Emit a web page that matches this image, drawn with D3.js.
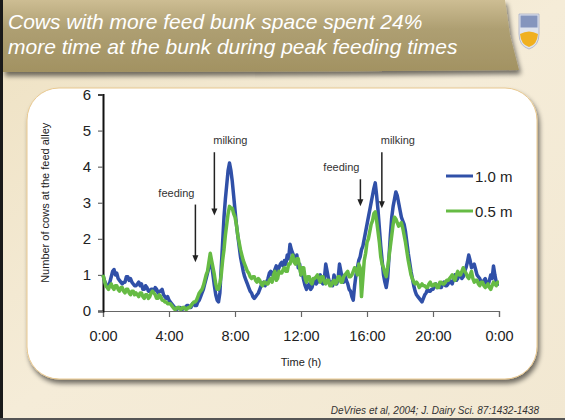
<!DOCTYPE html>
<html><head><meta charset="utf-8">
<script src="https://cdn.jsdelivr.net/npm/d3@7/dist/d3.min.js"></script>
<style>body{margin:0;padding:0;background:#f2e8d0;}svg{display:block;}</style>
</head><body>
<script>
// Data: values every 5 minutes from 0:00 to 24:00
const stepMinutes = 5;
const series1_0m = [
 1.0,0.85,0.75,0.7,0.7,0.8,0.95,1.1,1.15,1.0,1.05,0.9,
 0.85,0.8,0.75,0.8,0.8,0.95,0.95,0.85,0.9,0.8,0.75,0.7,
 0.7,0.75,0.8,0.7,0.75,0.6,0.6,0.7,0.65,0.55,0.55,0.6,
 0.6,0.55,0.65,0.6,0.5,0.55,0.55,0.6,0.45,0.4,0.35,0.4,
 0.3,0.25,0.2,0.15,0.1,0.05,0.05,0.1,0.1,0.05,0.05,0.1,
 0.1,0.15,0.15,0.1,0.1,0.2,0.2,0.15,0.15,0.25,0.3,0.4,
 0.5,0.6,0.75,0.9,1.05,1.2,1.4,1.3,1.0,0.7,0.45,0.3,
 0.25,0.5,1.2,1.9,2.6,3.1,3.5,3.9,4.1,3.9,3.6,3.2,
 2.8,2.4,2.1,1.8,1.5,1.3,1.1,0.95,0.85,0.75,0.65,0.55,
 0.5,0.4,0.35,0.4,0.45,0.5,0.6,0.7,0.75,0.8,0.7,0.8,
 0.9,1.05,1.1,1.0,1.0,1.15,1.25,1.1,1.2,1.3,1.35,1.25,
 1.4,1.3,1.55,1.45,1.85,1.7,1.6,1.5,1.4,1.55,1.2,1.3,
 1.0,1.05,0.85,0.7,0.6,0.7,0.75,0.6,0.65,0.8,0.9,0.75,
 0.8,0.95,1.0,0.8,0.75,0.9,1.3,1.1,0.9,0.75,0.8,0.7,
 1.0,0.85,0.75,0.9,1.3,1.1,0.9,0.8,1.0,0.85,0.75,0.6,
 0.55,0.4,0.3,0.7,1.0,1.2,1.4,1.5,1.7,1.8,2.0,2.2,
 2.4,2.6,2.8,3.0,3.2,3.4,3.55,3.2,2.8,2.3,1.8,1.4,
 1.0,0.8,0.65,0.9,1.5,2.1,2.6,2.9,3.1,3.3,3.2,3.0,
 2.8,2.6,2.5,2.4,2.2,1.9,1.6,1.35,1.1,0.9,0.7,0.55,
 0.45,0.4,0.35,0.3,0.25,0.35,0.45,0.5,0.6,0.55,0.55,0.6,
 0.6,0.7,0.75,0.65,0.7,0.65,0.65,0.75,0.8,0.7,0.7,0.75,
 0.85,0.8,0.75,0.9,1.0,0.85,0.9,1.0,1.05,0.9,0.95,1.1,
 1.2,1.35,1.55,1.4,1.2,1.25,1.3,1.15,1.0,0.95,0.9,0.8,
 0.75,0.85,0.9,0.75,0.7,0.85,1.0,0.9,1.25,1.0,0.8,0.75,
 0.75
];
const series0_5m = [
 1.0,0.85,0.7,0.65,0.6,0.7,0.75,0.65,0.6,0.7,0.7,0.6,
 0.55,0.65,0.65,0.55,0.5,0.6,0.6,0.5,0.45,0.55,0.55,0.45,
 0.5,0.45,0.4,0.5,0.5,0.4,0.35,0.45,0.45,0.35,0.4,0.5,
 0.55,0.5,0.45,0.35,0.35,0.45,0.4,0.3,0.3,0.25,0.25,0.2,
 0.2,0.2,0.15,0.1,0.05,0.05,0.1,0.1,0.05,0.05,0.1,0.1,
 0.05,0.05,0.1,0.1,0.15,0.2,0.25,0.25,0.3,0.4,0.5,0.55,
 0.6,0.7,0.85,1.0,1.1,1.35,1.6,1.4,1.2,1.0,0.75,0.6,
 0.6,0.75,1.0,1.4,1.7,2.1,2.4,2.7,2.9,2.85,2.85,2.7,
 2.6,2.4,2.1,1.9,1.7,1.55,1.4,1.3,1.2,1.1,1.05,0.95,
 0.9,0.95,0.95,0.85,0.8,0.9,0.85,0.75,0.7,0.8,0.8,0.75,
 0.75,0.85,0.9,0.8,1.0,1.1,0.85,0.9,1.1,1.05,1.05,1.15,
 1.2,1.1,1.1,1.3,1.3,1.45,1.55,1.35,1.3,1.45,1.45,1.2,
 1.0,1.2,1.2,0.9,0.8,0.95,0.95,0.8,0.75,0.9,0.9,0.95,
 1.0,0.9,0.8,0.95,0.95,0.8,0.75,0.85,0.85,0.7,0.7,0.8,
 0.85,0.75,0.8,0.95,0.95,0.8,0.8,0.95,1.0,1.05,1.1,0.95,
 0.95,1.0,1.1,1.2,1.15,1.0,1.3,1.2,0.4,0.9,1.4,1.6,
 1.9,2.0,2.2,2.4,2.5,2.7,2.75,2.5,2.2,1.9,1.5,1.3,
 1.2,1.05,0.95,1.2,1.5,1.8,2.1,2.4,2.6,2.55,2.45,2.35,
 2.4,2.45,2.3,2.1,1.9,1.65,1.4,1.2,1.0,0.9,0.8,0.75,
 0.8,0.75,0.65,0.7,0.75,0.7,0.7,0.65,0.65,0.75,0.8,0.7,
 0.7,0.75,0.75,0.65,0.65,0.8,0.8,0.75,0.75,0.8,0.85,0.85,
 0.9,0.95,1.0,0.9,0.85,1.0,1.1,1.0,1.0,1.1,1.2,1.1,
 1.05,0.95,0.9,1.0,1.1,0.9,0.8,0.85,0.85,0.75,0.7,0.8,
 0.8,0.7,0.65,0.7,0.75,0.65,0.6,0.7,0.8,0.75,0.7,0.8,
 0.8
];
const xTickHours = [0,4,8,12,16,20,24];
const xTickLabels = ["0:00","4:00","8:00","12:00","16:00","20:00","0:00"];
const yTicks = [0,1,2,3,4,5,6];
const seriesNames = ["1.0 m","0.5 m"];
const seriesColors = ["#3050a8","#66bb44"];
const annotations = [
  {label:"feeding", hour:5.6, yTop:2.95, yBot:1.35},
  {label:"milking", hour:6.75, yTop:4.4, yBot:2.65},
  {label:"feeding", hour:15.6, yTop:3.65, yBot:2.9},
  {label:"milking", hour:16.9, yTop:4.4, yBot:2.85}
];
const titleLines = ["Cows with more feed bunk space spent 24%","more time at the bunk during peak feeding times"];

const W=565,H=420;
const svg=d3.select("body").append("svg").attr("width",W).attr("height",H);
const defs=svg.append("defs");
const g1=defs.append("linearGradient").attr("id","ban").attr("x1",0).attr("y1",0).attr("x2",0).attr("y2",1);
g1.append("stop").attr("offset","0%").attr("stop-color","#cdbd93");
g1.append("stop").attr("offset","40%").attr("stop-color","#ae9f72");
g1.append("stop").attr("offset","100%").attr("stop-color","#a29262");
const g2=defs.append("linearGradient").attr("id","bg").attr("x1",0).attr("y1",0).attr("x2",1).attr("y2",1);
g2.append("stop").attr("offset","0%").attr("stop-color","#eee1c2");
g2.append("stop").attr("offset","50%").attr("stop-color","#f5ecd8");
g2.append("stop").attr("offset","100%").attr("stop-color","#f2e8d2");
const f=defs.append("filter").attr("id","sh").attr("x","-10%").attr("y","-10%").attr("width","130%").attr("height","140%");
f.append("feGaussianBlur").attr("in","SourceAlpha").attr("stdDeviation",2.5);
f.append("feOffset").attr("dx",2).attr("dy",4).attr("result","b");
f.append("feComponentTransfer").append("feFuncA").attr("type","linear").attr("slope",0.55);
const fm=f.append("feMerge");fm.append("feMergeNode");fm.append("feMergeNode").attr("in","SourceGraphic");

svg.append("rect").attr("width",W).attr("height",H).attr("fill","url(#bg)");
svg.append("rect").attr("x",0).attr("y",0).attr("width",3).attr("height",H).attr("fill","#1a1a1a");
svg.append("rect").attr("x",0).attr("y",H-2).attr("width",W).attr("height",2).attr("fill","#555");

// banner
svg.append("path").attr("d","M3,0 L505,0 L510,35 L519,70 Q300,72 3,72 Z")
  .attr("fill","url(#ban)").attr("filter","url(#sh)");
const tt=svg.append("g");
titleLines.forEach((t,i)=>tt.append("text").attr("x",8).attr("y",29+i*25).text(t)
  .attr("font-family","Liberation Sans, Arial, sans-serif").attr("font-style","italic")
  .attr("font-size",21).attr("fill","#ffffff"));

// logo
const logo=svg.append("g").attr("transform","translate(519,14)");
logo.append("path").attr("d","M0,0 H20 V20 Q20,32 10,35 Q0,32 0,20 Z").attr("fill","#dfe3ec").attr("stroke","#a8b0c8").attr("stroke-width",0.8);
logo.append("rect").attr("x",1.5).attr("y",1.5).attr("width",17).attr("height",12).attr("fill","#8595bd");
logo.append("path").attr("d","M1,20 Q10,15 19,20 Q18,31 10,33 Q2,31 1,20 Z").attr("fill","#f0b020");

// white panel
svg.append("rect").attr("x",27).attr("y",88).attr("width",510).attr("height",291).attr("rx",32)
  .attr("fill","#ffffff").attr("stroke","#e8c890").attr("stroke-width",1).attr("filter","url(#sh)");

const m={l:103,r:499,t:94.5,b:311};
const x=d3.scaleLinear().domain([0,24]).range([m.l,m.r]);
const y=d3.scaleLinear().domain([0,6]).range([m.b,m.t]);
const font="Liberation Sans, Arial, sans-serif";

const xa=svg.append("g").attr("transform",`translate(0,${m.b})`)
  .call(d3.axisBottom(x).tickValues(xTickHours).tickFormat((d,i)=>xTickLabels[i]).tickSize(6).tickPadding(14));
xa.select(".domain").attr("stroke","#666").attr("stroke-width",1.2);
xa.selectAll(".tick line").attr("stroke","#666").attr("stroke-width",1.2);
xa.selectAll("text").attr("font-family",font).attr("font-size",14.5).attr("fill","#222");

const ya=svg.append("g").attr("transform",`translate(${m.l},0)`)
  .call(d3.axisLeft(y).tickValues(yTicks).tickFormat(d3.format("d")).tickSize(5).tickPadding(7));
ya.select(".domain").attr("stroke","#111").attr("stroke-width",2);
ya.selectAll(".tick line").attr("stroke","#666").attr("stroke-width",1.2);
ya.selectAll("text").attr("font-family",font).attr("font-size",15).attr("fill","#222");

svg.append("text").attr("x",(m.l+m.r)/2).attr("y",366).attr("text-anchor","middle")
  .attr("font-family",font).attr("font-size",11).attr("fill","#222").text("Time (h)");
svg.append("text").attr("transform",`translate(49,${(m.t+m.b)/2}) rotate(-90)`).attr("text-anchor","middle")
  .attr("font-family",font).attr("font-size",11).attr("fill","#222").text("Number of cows at the feed alley");

const line=d3.line().x((d,i)=>x(i*stepMinutes/60)).y(d=>y(d));
svg.append("path").datum(series1_0m).attr("d",line).attr("fill","none").attr("stroke",seriesColors[0]).attr("stroke-width",3.5).attr("stroke-linejoin","round");
svg.append("path").datum(series0_5m).attr("d",line).attr("fill","none").attr("stroke",seriesColors[1]).attr("stroke-width",3.5).attr("stroke-linejoin","round");

annotations.forEach(a=>{
  const ax=x(a.hour);
  svg.append("line").attr("x1",ax).attr("x2",ax).attr("y1",y(a.yTop)).attr("y2",y(a.yBot)-5)
    .attr("stroke","#222").attr("stroke-width",1.5);
  const yb=y(a.yBot);
  svg.append("path").attr("d",`M${ax-3},${yb-7} L${ax+3},${yb-7} L${ax},${yb} Z`).attr("fill","#222");
  const dx = a.label==="feeding" ? -19 : 16;
  svg.append("text").attr("x",ax+dx).attr("y",y(a.yTop)-8).attr("text-anchor","middle")
    .attr("font-family",font).attr("font-size",11).attr("fill","#333").text(a.label);
});

seriesNames.forEach((n,i)=>{
  const ly=176+i*35;
  svg.append("line").attr("x1",446).attr("x2",473).attr("y1",ly).attr("y2",ly).attr("stroke",seriesColors[i]).attr("stroke-width",3);
  svg.append("text").attr("x",475).attr("y",ly+5.5).attr("font-family",font).attr("font-size",15).attr("fill","#222").text(n);
});

svg.append("text").attr("x",539).attr("y",414).attr("text-anchor","end")
  .attr("font-family",font).attr("font-style","italic").attr("font-size",10).attr("fill","#333")
  .text("DeVries et al, 2004; J. Dairy Sci. 87:1432-1438");
</script>
</body></html>
